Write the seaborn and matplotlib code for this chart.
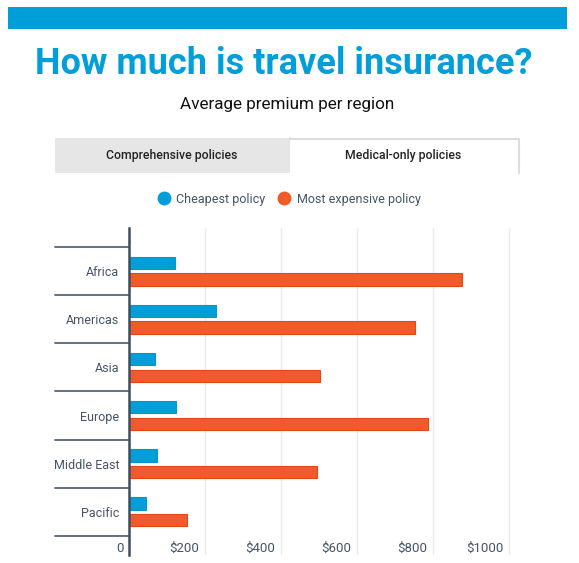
import pandas as pd
import seaborn as sns
import matplotlib.pyplot as plt
from matplotlib.patches import Rectangle
from matplotlib.lines import Line2D
from matplotlib import transforms

# data (medical-only policies, USD)
regions = ["Africa", "Americas", "Asia", "Europe", "Middle East", "Pacific"]
cheapest = [121, 228, 68, 124, 74, 46]
most_expensive = [875, 752, 503, 786, 495, 153]
series = ["Cheapest policy", "Most expensive policy"]
xticks = [0, 200, 400, 600, 800, 1000]
xtick_labels = ["0", "$200", "$400", "$600", "$800", "$1000"]

BLUE = "#009ed8"
ORANGE = "#f15a29"
TXT = "#445567"

df = pd.DataFrame({
    "region": regions * 2,
    "value": cheapest + most_expensive,
    "policy": [series[0]] * len(regions) + [series[1]] * len(regions),
})

sns.set_theme(style="white")
plt.rcParams["font.family"] = ["Roboto", "DejaVu Sans"]

W, H = 579, 563
fig = plt.figure(figsize=(W / 100, H / 100), dpi=100)

def fx(px):
    return px / W

def fy(py):
    return 1 - py / H

# top banner
fig.add_artist(Rectangle((fx(8), fy(29)), fx(567) - fx(8), fy(7) - fy(29),
                         transform=fig.transFigure, color=BLUE, lw=0))

fig.text(fx(284), fy(64), "How much is travel insurance?", ha="center", va="center",
         fontsize=26, fontweight="bold", color=BLUE)
fig.text(fx(287), fy(105), "Average premium per region", ha="center", va="center",
         fontsize=12.3, color="#111111")

# tabs
fig.add_artist(Rectangle((fx(55), fy(173)), fx(290) - fx(55), fy(138) - fy(173),
                         transform=fig.transFigure, color="#e6e6e6", lw=0))
fig.add_artist(Line2D([fx(290), fx(290), fx(519), fx(519)],
                      [fy(138), fy(139), fy(139), fy(173)],
                      transform=fig.transFigure, color="#dddddd", lw=1.5))
fig.text(fx(172), fy(155), "Comprehensive policies", ha="center", va="center",
         fontsize=8.8, fontweight="medium", color="#222222")
fig.text(fx(403), fy(155), "Medical-only policies", ha="center", va="center",
         fontsize=8.8, fontweight="medium", color="#222222")

# chart
ax = fig.add_axes([fx(129), fy(555), fx(519) - fx(129), fy(228) - fy(555)])
sns.barplot(data=df, y="region", x="value", hue="policy", order=regions,
            hue_order=series, palette=[BLUE, ORANGE], orient="h",
            width=0.7, gap=0.25, saturation=1, ax=ax, legend=False,
            edgecolor="none")
for bar, c in zip(ax.patches, [BLUE] * len(regions) + [ORANGE] * len(regions)):
    bar.set_edgecolor("#e0481c" if c == ORANGE else "#0a96cc")
    bar.set_linewidth(0.8)

ax.set_xlim(0, 1026)
ax.set_ylim(5.9, -0.9)
ax.set_xlabel("")
ax.set_ylabel("")
for v in xticks[1:]:
    ax.axvline(v, color="#ebebeb", lw=1, zorder=0)
ax.set_xticks([])
for s in ["top", "right", "bottom"]:
    ax.spines[s].set_visible(False)
ax.spines["left"].set_color("#3d4f5f")
ax.spines["left"].set_linewidth(1.8)

ax.tick_params(axis="y", length=0, pad=7, labelsize=9, labelcolor=TXT)

# category separators to the left of the axis
for i in range(len(regions) + 1):
    ax.plot([-0.19, 0], [i - 0.5, i - 0.5], transform=ax.get_yaxis_transform(),
            color="#566676", lw=1.3, clip_on=False)

# x tick labels drawn inside the plot, right-aligned to gridlines
off = transforms.offset_copy(ax.get_xaxis_transform(), fig=fig, x=-4, y=0, units="points")
for v, lab in zip(xticks, xtick_labels):
    ax.text(v, 0.02, lab, transform=off, ha="right", va="center",
            fontsize=9.5, color=TXT)

# legend
handles = [Line2D([], [], marker="o", ls="", markersize=9, color=c) for c in (BLUE, ORANGE)]
fig.legend(handles, series, loc="center", bbox_to_anchor=(fx(289), fy(199)), ncol=2,
           frameon=False, fontsize=9, labelcolor=TXT, handletextpad=0.5,
           columnspacing=1.0, handlelength=1.0)

fig.savefig("out.png", dpi=100)
